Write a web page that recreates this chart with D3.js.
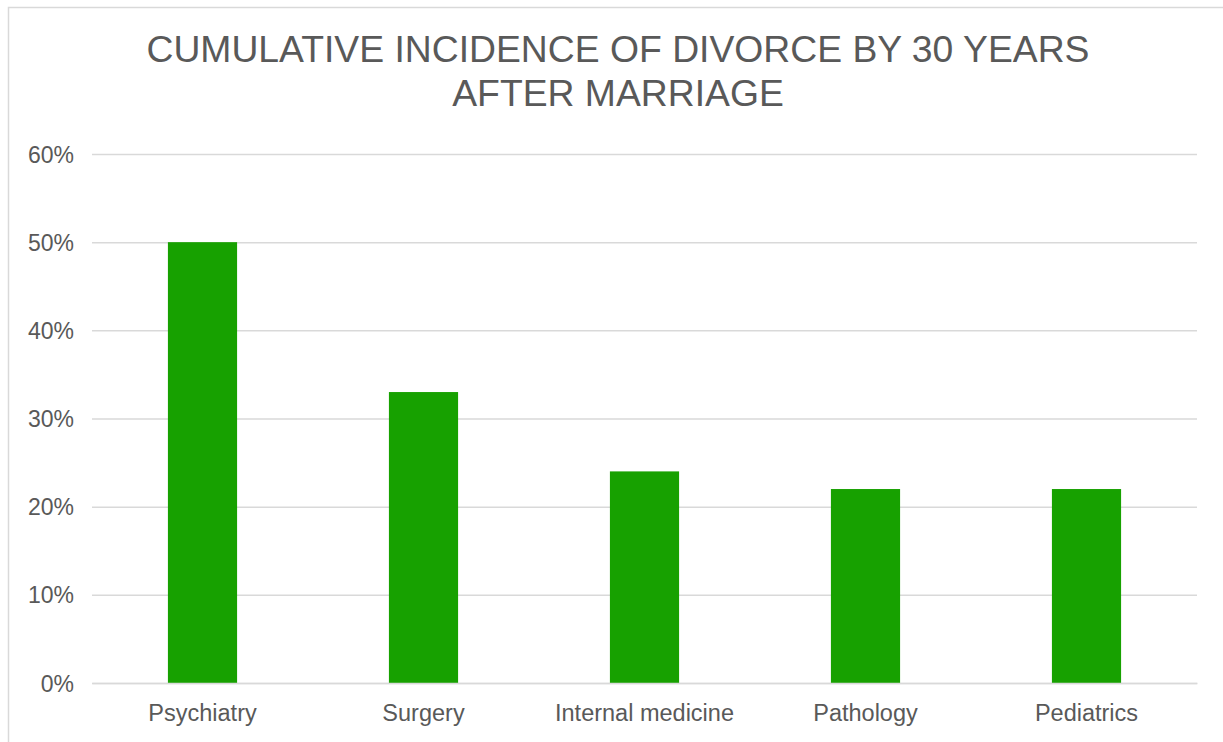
<!DOCTYPE html>
<html>
<head>
<meta charset="utf-8">
<script src="https://cdn.jsdelivr.net/npm/d3@7"></script>
<style>
  html, body { margin: 0; padding: 0; background: #fff; }
  svg { display: block; font-family: "Liberation Sans", Arial, sans-serif; }
</style>
</head>
<body>
<svg id="chart" width="1223" height="742"></svg>
<script>
// Cumulative incidence of divorce by specialty
const categories = ["Psychiatry", "Surgery", "Internal medicine", "Pathology", "Pediatrics"];
const divorceRates = [0.50, 0.33, 0.24, 0.22, 0.22];
const yTicks = [0, 0.1, 0.2, 0.3, 0.4, 0.5, 0.6];
const titleLines = ["CUMULATIVE INCIDENCE OF DIVORCE BY 30 YEARS", "AFTER MARRIAGE"];

const svg = d3.select("#chart");
const W = 1223, H = 742;
const plot = { left: 92, right: 1197, top: 154, bottom: 683 };

// Chart frame
svg.append("rect")
  .attr("x", 8.5).attr("y", 7.5)
  .attr("width", W + 20).attr("height", H + 20)
  .attr("fill", "#fff")
  .attr("stroke", "#d9d9d9").attr("stroke-width", 1.5);

const x = d3.scaleBand().domain(categories).range([plot.left, plot.right]).padding(0);
const y = d3.scaleLinear().domain([0, 0.6]).range([plot.bottom, plot.top]);

// Horizontal gridlines and y labels
const yAxis = d3.axisLeft(y)
  .tickValues(yTicks)
  .tickFormat(d3.format(".0%"))
  .tickSize(-(plot.right - plot.left))
  .tickPadding(18);

const gy = svg.append("g")
  .attr("transform", `translate(${plot.left},0)`)
  .call(yAxis);
gy.select(".domain").remove();
gy.selectAll(".tick line").attr("stroke", "#d9d9d9").attr("stroke-width", 1.5);
gy.selectAll(".tick text")
  .attr("fill", "#595959")
  .style("font-size", "23px")
  .attr("dy", "0.35em");

// Bars
const barW = x.bandwidth() * 0.313;
svg.append("g").selectAll("rect")
  .data(categories)
  .join("rect")
  .attr("x", d => x(d) + x.bandwidth() / 2 - barW / 2)
  .attr("y", (d, i) => y(divorceRates[i]))
  .attr("width", barW)
  .attr("height", (d, i) => y(0) - y(divorceRates[i]))
  .attr("fill", "#17a100");

// Category axis
const xAxis = d3.axisBottom(x).tickSize(0).tickPadding(21);
const gx = svg.append("g")
  .attr("transform", `translate(0,${plot.bottom})`)
  .call(xAxis);
gx.select(".domain").attr("stroke", "#d9d9d9").attr("stroke-width", 1.5);
gx.selectAll(".tick text")
  .attr("fill", "#595959")
  .style("font-size", "23.5px");

// Title
svg.append("text")
  .attr("x", 618).attr("y", 62)
  .attr("text-anchor", "middle")
  .attr("fill", "#595959")
  .style("font-size", "37.3px")
  .selectAll("tspan")
  .data(titleLines)
  .join("tspan")
  .attr("x", 618)
  .attr("dy", (d, i) => i === 0 ? 0 : 44)
  .text(d => d);
</script>
</body>
</html>
